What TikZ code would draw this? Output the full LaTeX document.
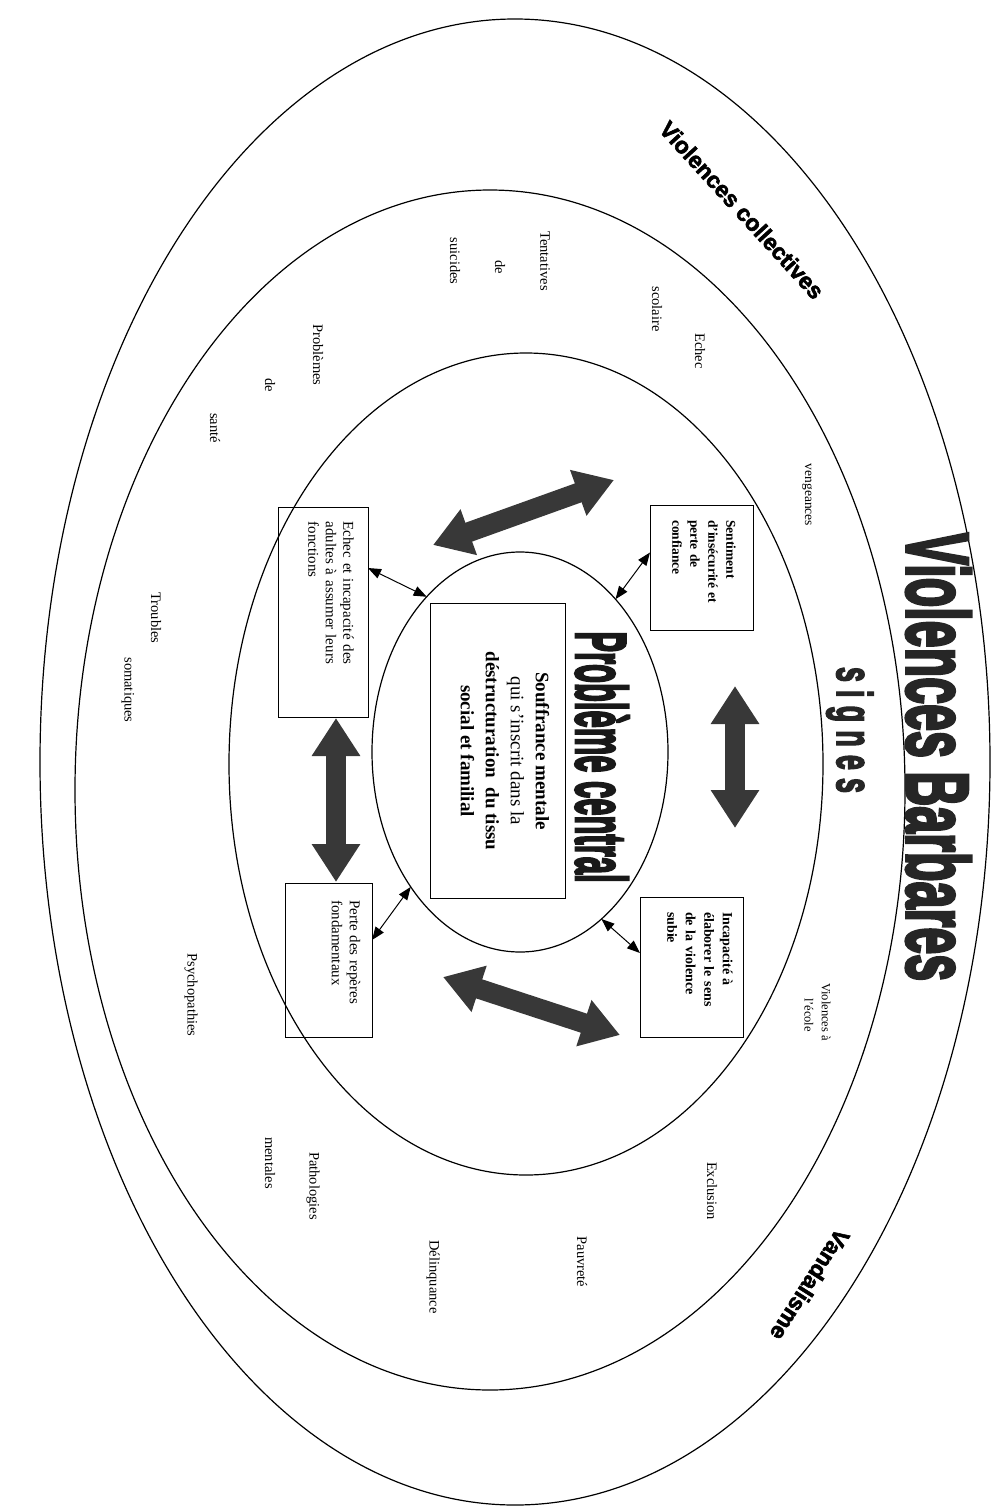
\documentclass[tikz,border=0pt]{standalone}
\usepackage{fontspec}
\setmainfont{Liberation Serif}
\newfontfamily\hsans{Liberation Sans}
\newfontfamily\heavyA{Liberation Sans}[FakeBold=4]
\newfontfamily\heavyB{Liberation Sans}[FakeBold=2.5]
\usepackage{graphicx}
\usetikzlibrary{shapes.geometric,arrows.meta,calc}
\begin{document}
\begin{tikzpicture}[x=1pt,y=-1pt,
  ring/.style={draw,ellipse,line width=1.2pt,inner sep=0pt,outer sep=0pt},
  box/.style={draw,line width=1pt,inner sep=0pt,outer sep=0pt},
  lbl/.style={rotate=-90,font=\fontsize{14.5}{17}\selectfont,inner sep=0pt},
  boxtxt/.style={rotate=-90,inner sep=0pt},
  bigarrow/.style={line width=20pt,draw=black!78,{Triangle[width=46pt,length=38pt]}-{Triangle[width=46pt,length=38pt]}},
  thinarrow/.style={line width=1pt,{Triangle[width=10pt,length=13pt]}-{Triangle[width=10pt,length=13pt]}},
  heavy/.style={inner sep=0pt,font=\heavyA\bfseries},
  semiheavy/.style={inner sep=0pt,font=\heavyB\bfseries\fontsize{23}{23}\selectfont}
]
\useasboundingbox (0,0) rectangle (1001,1510);

% rings
\node[ring,minimum width=950pt,minimum height=1486pt] (e1) at (515,762) {};
\node[ring,minimum width=830pt,minimum height=1200pt] (e2) at (490,790) {};
\node[ring,minimum width=594pt,minimum height=822pt] (e3) at (526,764) {};
\node[ring,minimum width=296pt,minimum height=400pt] (e4) at (520,752) {};

% boxes
\node[box,minimum width=103pt,minimum height=125pt] (b1) at (701.5,567.5) {};
\node[box,minimum width=103pt,minimum height=140pt] (b2) at (691.5,967) {};
\node[box,minimum width=90pt,minimum height=210pt] (b3) at (323,612) {};
\node[box,minimum width=87pt,minimum height=154pt] (b4) at (328.5,960) {};
\node[box,minimum width=135pt,minimum height=295pt] (b5) at (497.5,750.5) {};

% box texts
\node[boxtxt,text width=100pt,align=left,font=\bfseries\fontsize{13.5}{18}\selectfont] (t1) at (704,570)
  {Sentiment\\\makebox[100pt][s]{d'insécurité et}\\\makebox[100pt][s]{perte de}\\confiance};
\node[boxtxt,text width=106pt,align=left,font=\bfseries\fontsize{14}{18.5}\selectfont] (t2) at (700,965)
  {Incapacité à\\élaborer le sens\\de la violence\\subie};
\node[boxtxt,text width=181pt,align=left,font=\fontsize{15}{17.5}\selectfont] (t3) at (331,612)
  {\makebox[181pt][s]{Echec et incapacité des}\\\makebox[181pt][s]{adultes à assumer leurs}\\fonctions};
\node[boxtxt,text width=110pt,align=left,font=\fontsize{15}{18}\selectfont] (t4) at (346,955)
  {Perte des repères\\fondamentaux};
\node[boxtxt,align=center,font=\fontsize{19}{25}\selectfont] (t5) at (505,751)
  {\textbf{Souffrance mentale}\\qui s'inscrit dans la\\\textbf{déstructuration\ \ du tissu}\\\textbf{social et familial}};

% titles
\node[heavy,rotate=-90,anchor=base,text=black!90] (pc) at (576,757)
  {\fontsize{72}{72}\selectfont\scalebox{0.43}[1]{Problème central}};
\node[heavy,rotate=-90,anchor=base,text=black!85] (vb) at (907,757)
  {\fontsize{88}{88}\selectfont\scalebox{0.55}[1]{Violences Barbares}};
\node[heavy,rotate=-90,anchor=base,text=black!85] (sg) at (837,730)
  {\fontsize{50}{50}\selectfont\scalebox{0.54}[1]{s\hspace{15pt}i\hspace{15pt}g\hspace{15pt}n\hspace{15pt}e\hspace{15pt}s}};
\node[semiheavy,rotate=-47.6] (vc) at (742,210) {Violences collectives};
\node[semiheavy,rotate=-122.5] (vd) at (810,1285) {Vandalisme};

% labels
\node[lbl] (l1) at (545,261) {Tentatives};
\node[lbl] (l2) at (500,267) {de};
\node[lbl] (l3) at (455,261) {suicides};
\node[lbl] (l4) at (657,309) {scolaire};
\node[lbl] (l5) at (700,351) {Echec};
\node[lbl] (l6) at (318,355) {Problèmes};
\node[lbl] (l7) at (270,385) {de};
\node[lbl] (l8) at (215,428) {santé};
\node[lbl,font=\fontsize{13.5}{15}\selectfont] (l9) at (807,495) {vengeances};
\node[lbl,font=\fontsize{12.5}{14}\selectfont] (l10) at (826,1012) {Violences à};
\node[lbl,font=\fontsize{12.5}{14}\selectfont] (l11) at (809,1015) {l'école};
\node[lbl] (l12) at (156,618) {Troubles};
\node[lbl] (l13) at (128,690) {somatiques};
\node[lbl] (l14) at (191,995) {Psychopathies};
\node[lbl] (l15) at (712,1191) {Exclusion};
\node[lbl] (l16) at (582,1262) {Pauvreté};
\node[lbl] (l17) at (433,1277) {Délinquance};
\node[lbl] (l18) at (313,1186) {Pathologies};
\node[lbl] (l19) at (270,1163) {mentales};

% big arrows
\coordinate (A1) at (433,545); \coordinate (A2) at (614,480);
\coordinate (B1) at (735,686); \coordinate (B2) at (735,828);
\coordinate (C1) at (336,718); \coordinate (C2) at (336,882);
\coordinate (D1) at (443,977); \coordinate (D2) at (620,1035);
\draw[bigarrow] (A1) -- (A2);
\draw[bigarrow] (B1) -- (B2);
\draw[bigarrow] (C1) -- (C2);
\draw[bigarrow] (D1) -- (D2);

% thin arrows
\draw[thinarrow] ([yshift=15pt]b1.west) -- (e4.58);
\draw[thinarrow] ([yshift=14pt]b2.west) -- (e4.-64);
\draw[thinarrow] ([yshift=44pt]b3.east) -- (e4.121);
\draw[thinarrow] ([yshift=20pt]b4.east) -- (e4.-129);
\end{tikzpicture}
\end{document}
